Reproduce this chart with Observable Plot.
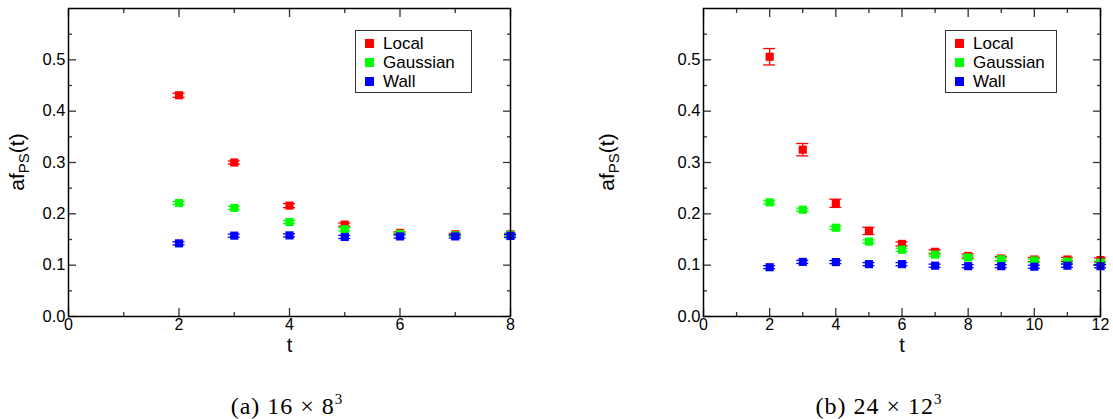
<!DOCTYPE html>
<html><head><meta charset="utf-8">
<script src="https://cdn.jsdelivr.net/npm/d3@7"></script>
<script src="https://cdn.jsdelivr.net/npm/@observablehq/plot@0.6"></script>
<style>
body{margin:0;background:#fff;}
#wrap{position:relative;width:1113px;height:419px;overflow:hidden;background:#fff;font-family:"Liberation Sans",Arial,sans-serif;}
.panel{position:absolute;top:0;}
.legend{position:absolute;box-sizing:border-box;border:1.5px solid #333;background:#fff;padding:3px 0 0 0;}
.legend .item{display:flex;align-items:center;height:19px;font-size:17px;color:#000;}
.legend .sw{display:inline-block;width:9px;height:9px;margin:0 9px 0 9px;}
.caption{position:absolute;font-family:"Liberation Serif","DejaVu Serif",serif;font-size:24px;letter-spacing:1px;color:#000;white-space:nowrap;transform:translateX(-50%);line-height:1;}
.caption sup{font-size:15px;vertical-align:0;position:relative;top:-10px;}
</style></head>
<body><div id="wrap"></div>
<script>
// ---- data: panel (a) 16 x 8^3
const tA = [2, 3, 4, 5, 6, 7, 8];
const localA = [0.431, 0.300, 0.216, 0.179, 0.163, 0.160, 0.160];
const localAErr = [0.004, 0.003, 0.004, 0.003, 0.002, 0.002, 0.002];
const gaussA = [0.221, 0.2115, 0.184, 0.170, 0.161, 0.158, 0.159];
const gaussAErr = [0.003, 0.003, 0.003, 0.003, 0.002, 0.002, 0.002];
const wallA = [0.1425, 0.1575, 0.158, 0.155, 0.156, 0.156, 0.157];
const wallAErr = [0.003, 0.003, 0.003, 0.003, 0.003, 0.003, 0.003];
// ---- data: panel (b) 24 x 12^3
const tB = [2, 3, 4, 5, 6, 7, 8, 9, 10, 11, 12];
const localB = [0.506, 0.325, 0.2205, 0.1667, 0.1414, 0.126, 0.118, 0.113, 0.111, 0.111, 0.110];
const localBErr = [0.016, 0.012, 0.008, 0.007, 0.004, 0.004, 0.004, 0.004, 0.004, 0.004, 0.004];
const gaussB = [0.2224, 0.208, 0.173, 0.146, 0.130, 0.1206, 0.115, 0.1115, 0.109, 0.107, 0.105];
const gaussBErr = [0.003, 0.003, 0.003, 0.003, 0.003, 0.003, 0.003, 0.003, 0.003, 0.003, 0.003];
const wallB = [0.096, 0.1064, 0.106, 0.102, 0.102, 0.099, 0.098, 0.098, 0.097, 0.099, 0.098];
const wallBErr = [0.003, 0.003, 0.003, 0.003, 0.003, 0.003, 0.003, 0.003, 0.003, 0.003, 0.003];

const seriesNames = ["Local", "Gaussian", "Wall"];
const seriesColors = ["#ff0000", "#00ff00", "#0000ff"];
const yMajor = [0, 0.1, 0.2, 0.3, 0.4, 0.5];
const yMinor = [0.05, 0.15, 0.25, 0.35, 0.45, 0.55];
const xMajorA = [0, 2, 4, 6, 8];
const xMinorA = [1, 3, 5, 7];
const xMajorB = [0, 2, 4, 6, 8, 10, 12];
const xMinorB = [1, 3, 5, 7, 9, 11];
const captionA = "(a) 16 × 8";
const captionB = "(b) 24 × 12";

function rows(t, v, e) { return t.map((x, i) => ({t: x, v: v[i], lo: v[i] - e[i], hi: v[i] + e[i]})); }

function panel(cfg) {
  const marks = [];
  cfg.series.forEach((d, k) => {
    const c = seriesColors[k];
    marks.push(Plot.ruleX(d, {x: "t", y1: "lo", y2: "hi", stroke: c, strokeWidth: 1.3}));
    marks.push(Plot.ruleY(d, {y: "lo", x1: "t", x2: "t", insetLeft: -6, insetRight: -6, stroke: c, strokeWidth: 1.3}));
    marks.push(Plot.ruleY(d, {y: "hi", x1: "t", x2: "t", insetLeft: -6, insetRight: -6, stroke: c, strokeWidth: 1.3}));
    marks.push(Plot.dot(d, {x: "t", y: "v", symbol: "square", r: 4.6, fill: c, stroke: null}));
  });
  const tickStyle = {stroke: "#333", strokeWidth: 1.3};
  const p = Plot.plot({
    width: cfg.width, height: 360,
    marginLeft: cfg.ml, marginRight: cfg.mr, marginTop: 8, marginBottom: 44,
    style: {fontFamily: "Liberation Sans, Arial, sans-serif", fontSize: "16px", background: "transparent", overflow: "visible"},
    x: {domain: [0, cfg.xmax]},
    y: {domain: [0, 0.6]},
    marks: [
      Plot.axisY({anchor: "left", ticks: yMajor, tickSize: 0, tickPadding: 3, tickFormat: d3.format(".1f"), label: null, fontSize: 16.5}),
      Plot.axisY({anchor: "left", ticks: yMajor, tickSize: -8, text: null, label: null, ...tickStyle}),
      Plot.axisY({anchor: "left", ticks: yMinor, tickSize: -4, text: null, label: null, ...tickStyle}),
      Plot.axisY({anchor: "right", ticks: yMajor, tickSize: -8, text: null, label: null, ...tickStyle}),
      Plot.axisY({anchor: "right", ticks: yMinor, tickSize: -4, text: null, label: null, ...tickStyle}),
      Plot.axisX({anchor: "bottom", ticks: cfg.xMajor, tickSize: 0, tickPadding: 2, tickFormat: d3.format("d"), label: null, fontSize: 16}),
      Plot.axisX({anchor: "bottom", ticks: cfg.xMajor, tickSize: -8, text: null, label: null, ...tickStyle}),
      Plot.axisX({anchor: "bottom", ticks: cfg.xMinor, tickSize: -4, text: null, label: null, ...tickStyle}),
      Plot.axisX({anchor: "top", ticks: cfg.xMajor, tickSize: -8, text: null, label: null, ...tickStyle}),
      Plot.axisX({anchor: "top", ticks: cfg.xMinor, tickSize: -4, text: null, label: null, ...tickStyle}),
      Plot.text(["t"], {frameAnchor: "bottom", dy: 35, fontSize: 20, fill: "#000"}),
      ...marks,
      Plot.frame({stroke: "#000", strokeWidth: 1.5})
    ]
  });
  // y axis title with subscript
  const svg = d3.select(p);
  const cy = (8 + 316) / 2;
  const lab = svg.append("text")
    .attr("transform", `translate(${cfg.labelX},${cy}) rotate(-90)`)
    .attr("text-anchor", "middle").attr("font-size", 21).attr("fill", "#000")
    .attr("font-family", "Liberation Sans, Arial, sans-serif");
  lab.append("tspan").text("af");
  lab.append("tspan").attr("font-size", 15).attr("dy", 5).text("PS");
  lab.append("tspan").attr("dy", -5).text("(t)");
  p.classList.add("panel");
  p.style.left = cfg.left + "px";
  return p;
}

const wrap = document.getElementById("wrap");
const seriesA = [rows(tA, localA, localAErr), rows(tA, gaussA, gaussAErr), rows(tA, wallA, wallAErr)];
const seriesB = [rows(tB, localB, localBErr), rows(tB, gaussB, gaussBErr), rows(tB, wallB, wallBErr)];
wrap.appendChild(panel({series: seriesA, xmax: 8, xMajor: xMajorA, xMinor: xMinorA, width: 530, ml: 68, mr: 20, left: 0, labelX: 24}));
wrap.appendChild(panel({series: seriesB, xmax: 12, xMajor: xMajorB, xMinor: xMinorB, width: 553, ml: 143, mr: 13, left: 560, labelX: 54}));

function legend(left, width) {
  const div = document.createElement("div");
  div.className = "legend";
  Object.assign(div.style, {left: left + "px", top: "30px", width: width + "px", height: "63px"});
  seriesNames.forEach((n, i) => {
    const it = document.createElement("div"); it.className = "item";
    const sw = document.createElement("span"); sw.className = "sw"; sw.style.background = seriesColors[i];
    it.appendChild(sw); it.appendChild(document.createTextNode(n));
    div.appendChild(it);
  });
  wrap.appendChild(div);
}
legend(355, 117);
legend(945, 112);

function caption(text, sup, x) {
  const c = document.createElement("div"); c.className = "caption";
  c.style.left = x + "px"; c.style.top = "394px";
  c.appendChild(document.createTextNode(text));
  const s = document.createElement("sup"); s.textContent = sup; c.appendChild(s);
  wrap.appendChild(c);
}
caption(captionA, "3", 287);
caption(captionB, "3", 879);
</script></body></html>
